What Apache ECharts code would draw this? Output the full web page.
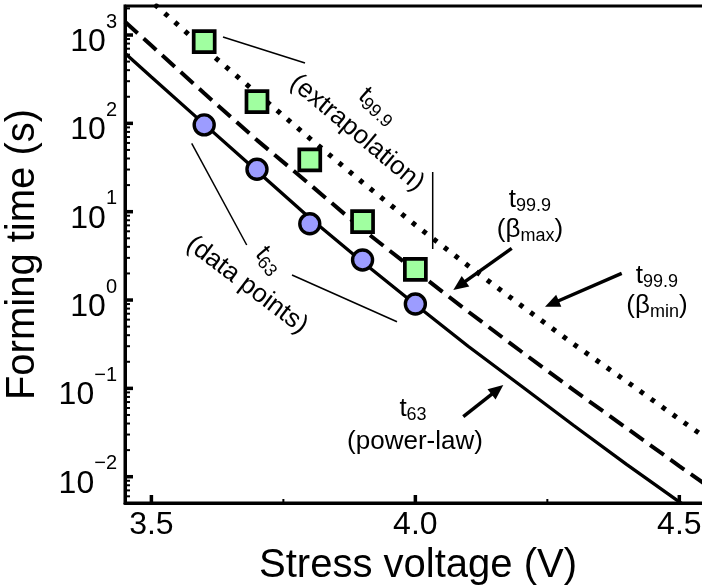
<!DOCTYPE html>
<html>
<head>
<meta charset="utf-8">
<script src="https://cdn.jsdelivr.net/npm/echarts@6/dist/echarts.min.js"></script>
<style>
  html, body { margin: 0; padding: 0; background: #fff; }
  #chart { width: 702px; height: 587px; }
</style>
</head>
<body>
<div id="chart"></div>
<script>
// Stress voltage grid used for the fitted / extrapolated curves (V)
const voltGrid = [3.45, 3.5, 3.6, 3.7, 3.8, 3.9, 4.0, 4.1, 4.2, 4.3, 4.4, 4.5, 4.56];
// t63 power-law fit (s)
const t63PowerLaw = [620, 335, 98, 28.8, 8.5, 2.69, 0.89, 0.30, 0.107, 0.038, 0.0138, 0.0052, 0.0030];
// t99.9 with beta max (s)
const t999BetaMax = [1410, 760, 219, 64.6, 20.4, 6.3, 2.14, 0.74, 0.263, 0.0955, 0.0355, 0.0132, 0.0074];
// t99.9 with beta min (s)
const t999BetaMin = [4570, 2400, 708, 219, 67.6, 21.4, 7.08, 2.45, 0.87, 0.316, 0.12, 0.0447, 0.0251];

// Measured voltages and times (s)
const measVolt = [3.6, 3.7, 3.8, 3.9, 4.0];
const t63Data = [96, 30.2, 7.3, 2.84, 0.90];
const t999Extrap = [840, 176, 38.5, 7.7, 2.22];

// Axis ticks
const xMajorTicks = [3.5, 4.0, 4.5];
const xMinorTicks = [3.75, 4.25];
const yMajorTicks = [0.01, 0.1, 1, 10, 100, 1000];
const yMinorTicks = [];
[-3, -2, -1, 0, 1, 2, 3].forEach(function (e) {
  for (let k = 2; k <= 9; k++) yMinorTicks.push(+(k * Math.pow(10, e)).toPrecision(3));
});

const FONT = '"Liberation Sans", Arial, sans-serif';
const X_MIN = 3.45, X_MAX = 4.56;
const Y_MIN = 0.00504, Y_MAX = 2130;

function pairs(xs, ys) { return xs.map(function (x, i) { return [x, ys[i]]; }); }

function expLabel(v) {
  const e = Math.round(Math.log10(v));
  const s = e < 0 ? '\u2212' + (-e) : String(e);
  return '{b|10}{s|' + s + '}';
}

// annotation helpers
function leader(x1, y1, x2, y2, w) {
  return { type: 'line', z: 100, shape: { x1: x1, y1: y1, x2: x2, y2: y2 },
           style: { stroke: '#000', lineWidth: w || 1.5 } };
}
function arrow(x1, y1, x2, y2) {
  const dx = x2 - x1, dy = y2 - y1, L = Math.hypot(dx, dy);
  const ux = dx / L, uy = dy / L, hl = 15, hw = 6.5;
  const bx = x2 - ux * hl, by = y2 - uy * hl;
  return [
    { type: 'line', z: 100, shape: { x1: x1, y1: y1, x2: bx + ux * 2, y2: by + uy * 2 },
      style: { stroke: '#000', lineWidth: 3.5 } },
    { type: 'polygon', z: 100,
      shape: { points: [[x2, y2], [bx - uy * hw, by + ux * hw], [bx + uy * hw, by - ux * hw]] },
      style: { fill: '#000' } }
  ];
}
const annRich = {
  m: { fontSize: 26, fontFamily: FONT, fill: '#000', verticalAlign: 'top' },
  s: { fontSize: 18, fontFamily: FONT, fill: '#000', padding: [10, 0, 0, 0], verticalAlign: 'top' }
};
function label(x, y, text, rotDeg) {
  return { type: 'text', z: 100, x: x, y: y, rotation: (rotDeg || 0) * Math.PI / 180,
           style: { text: text, rich: annRich, align: 'center', verticalAlign: 'middle',
                    fill: '#000', fontSize: 26, fontFamily: FONT } };
}

const chart = echarts.init(document.getElementById('chart'), null, { renderer: 'canvas' });

const annotations = [].concat(
  [leader(223, 37, 305, 63)],
  [label(377, 107, '{m|t}{s|99.9}', -42)],
  [label(357, 133, '{m|(extrapolation)}', -40)],
  [leader(432.7, 172, 432.7, 249)],
  [leader(191.7, 143.3, 246.7, 245)],
  [label(268, 261, '{m|t}{s|63}', -50)],
  [label(247, 285, '{m|(data points)}', -37)],
  [leader(292, 275, 397, 321.7)],
  [label(530, 201, '{m|t}{s|99.9}')],
  [label(530, 231, '{m|(\u03B2}{s|max}{m|)}')],
  arrow(511.7, 248.3, 453.3, 290),
  [label(657, 277, '{m|t}{s|99.9}')],
  [label(657, 307, '{m|(\u03B2}{s|min}{m|)}')],
  arrow(621.7, 273.3, 545, 306.7),
  [label(413, 410, '{m|t}{s|63}')],
  [label(415, 442, '{m|(power-law)}')],
  arrow(463.3, 416.7, 503.3, 385)
);

const option = {
  animation: false,
  backgroundColor: '#fff',
  grid: {
    left: 125, top: 6, width: 586, height: 497,
    show: true, borderColor: '#000', borderWidth: 3, backgroundColor: 'transparent',
    containLabel: false, outerBoundsMode: 'none'
  },
  xAxis: {
    type: 'value', min: X_MIN, max: X_MAX, position: 'bottom',
    axisLine: { show: true, lineStyle: { color: '#000', width: 3 } },
    axisTick: { show: false },
    axisLabel: { show: true, customValues: xMajorTicks, margin: 6,
                 formatter: function (v) { return (+v).toFixed(1); },
                 fontSize: 32, color: '#000', fontFamily: FONT },
    splitLine: { show: false },
    name: 'Stress voltage (V)', nameLocation: 'middle', nameGap: 39,
    nameTextStyle: { fontSize: 40, color: '#000', fontFamily: FONT }
  },
  yAxis: {
    type: 'log', logBase: 10, min: Y_MIN, max: Y_MAX, position: 'left',
    axisLine: { show: true, lineStyle: { color: '#000', width: 3 } },
    axisTick: { show: false },
    axisLabel: {
      show: true, customValues: yMajorTicks, margin: 8, color: '#000',
      formatter: expLabel,
      rich: {
        b: { fontSize: 32, fontFamily: FONT, color: '#000', verticalAlign: 'bottom' },
        s: { fontSize: 20, fontFamily: FONT, color: '#000', padding: [0, 0, 26, 0], verticalAlign: 'top' }
      }
    },
    splitLine: { show: false },
    name: 'Forming time (s)', nameLocation: 'middle', nameGap: 82, nameRotate: 90,
    nameTextStyle: { fontSize: 40, color: '#000', fontFamily: FONT }
  },
  series: [
    {
      name: 't99.9 (beta min)', type: 'line',
      data: pairs(voltGrid, t999BetaMin), showSymbol: false, symbol: 'none', clip: true,
      lineStyle: { color: '#000', width: 5, type: [4.5, 9], cap: 'butt' }, z: 2
    },
    {
      name: 't99.9 (beta max)', type: 'line',
      data: pairs(voltGrid, t999BetaMax), showSymbol: false, symbol: 'none', clip: true,
      lineStyle: { color: '#000', width: 4, type: [17, 8], cap: 'butt' }, z: 2
    },
    {
      name: 't63 (power-law)', type: 'line',
      data: pairs(voltGrid, t63PowerLaw), showSymbol: false, symbol: 'none', clip: true,
      lineStyle: { color: '#000', width: 3.3 }, z: 2
    },
    {
      name: 't63 (data points)', type: 'scatter',
      data: pairs(measVolt, t63Data), symbol: 'circle', symbolSize: 20,
      itemStyle: { color: '#9c9cff', borderColor: '#000', borderWidth: 3.4, opacity: 1 }, z: 5
    },
    {
      name: 't99.9 (extrapolation)', type: 'scatter',
      data: pairs(measVolt, t999Extrap), symbol: 'rect', symbolSize: 21,
      itemStyle: { color: '#a0ffa0', borderColor: '#000', borderWidth: 3.7, opacity: 1 }, z: 5
    }
  ]
};

chart.setOption(option);

// Inward tick marks placed through the axes' own scales
function px(x, y) { return chart.convertToPixel({ xAxisIndex: 0, yAxisIndex: 0 }, [x, y]); }
const tickMarks = [];
const leftX = px(X_MIN, 1)[0];
const baseY = px(4, Y_MIN)[1];
yMajorTicks.forEach(function (v) {
  const y = px(X_MIN, v)[1];
  tickMarks.push(leader(leftX, y, leftX + 8, y, 3.5));
});
yMinorTicks.forEach(function (v) {
  if (v <= Y_MIN || v >= Y_MAX) return;
  const y = px(X_MIN, v)[1];
  tickMarks.push(leader(leftX, y, leftX + 5, y, 2));
});
xMajorTicks.forEach(function (v) {
  const x = px(v, 1)[0];
  tickMarks.push(leader(x, baseY, x, baseY - 8, 3.5));
});
xMinorTicks.forEach(function (v) {
  const x = px(v, 1)[0];
  tickMarks.push(leader(x, baseY, x, baseY - 4, 2));
});

chart.setOption({ graphic: { elements: annotations.concat(tickMarks) } });
</script>
</body>
</html>
